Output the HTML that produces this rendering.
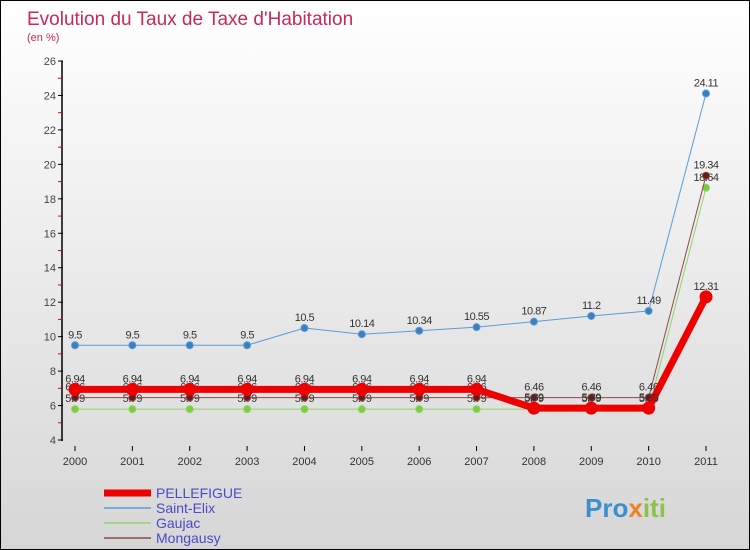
<!DOCTYPE html>
<html><head><meta charset="utf-8"><style>
body{margin:0;}
#wrap{width:748px;height:548px;border:1px solid #000;background:linear-gradient(#fff 0%,#d6d6d6 100%);position:relative;overflow:hidden;font-family:"Liberation Sans",sans-serif;}
</style></head><body>
<div id="wrap">
<svg id="svg" width="748" height="548"></svg>
</div>
<script>
const years=["2000","2001","2002","2003","2004","2005","2006","2007","2008","2009","2010","2011"];
const yTicks=[4,6,8,10,12,14,16,18,20,22,24,26];
const pellefigue=[6.94,6.94,6.94,6.94,6.94,6.94,6.94,6.94,5.85,5.85,5.85,12.31];
const pellefigueLabels=["6.94","6.94","6.94","6.94","6.94","6.94","6.94","6.94","5.89","5.89","5.89","12.31"];
const saintElix=[9.5,9.5,9.5,9.5,10.5,10.14,10.34,10.55,10.87,11.2,11.49,24.11];
const gaujac=[5.79,5.79,5.79,5.79,5.79,5.79,5.79,5.79,5.79,5.79,5.79,18.64];
const mongausy=[6.46,6.46,6.46,6.46,6.46,6.46,6.46,6.46,6.46,6.46,6.46,19.34];
const NS="http://www.w3.org/2000/svg";
const svg=document.getElementById('svg');
function X(i){return 74+i*(705-74)/11;}
function Y(v){return 439-(v-4)*(379/22);}
function el(t,a,p){const e=document.createElementNS(NS,t);for(const k in a)e.setAttribute(k,a[k]);(p||svg).appendChild(e);return e;}
function txt(x,y,s,a){const e=el('text',Object.assign({x:x,y:y},a));e.textContent=s;return e;}
let t=txt(26,24,"Evolution du Taux de Taxe d'Habitation",{fill:'#c8285a','font-size':19});

t=txt(26,40,"(en %)",{fill:'#c8285a','font-size':11});

// axes
let a=el('line',{x1:61,y1:60,x2:61,y2:440,stroke:'#000','stroke-width':1.5});

a=el('line',{x1:61,y1:440,x2:720,y2:440,stroke:'#000','stroke-width':0});
yTicks.forEach(v=>{const l=el('line',{x1:57,y1:Y(v),x2:62,y2:Y(v),stroke:'#000'});

const tt=txt(55,Y(v)+4,String(v),{'font-size':11,fill:'#444','text-anchor':'end'});

if(v<26){const m=el('line',{x1:57,y1:Y(v+1),x2:60,y2:Y(v+1),stroke:'#e00'});
}});
years.forEach((y,i)=>{const l=el('line',{x1:X(i),y1:445,x2:X(i),y2:450,stroke:'#000'});

const tt=txt(X(i),464,y,{'font-size':11,fill:'#333','text-anchor':'middle'});
});
function series(name,vals,color,w,r,fill,labels){
const g=el('g',{});
const p=el('polyline',{points:vals.map((v,i)=>X(i)+','+Y(v)).join(' '),fill:'none',stroke:color,'stroke-width':w},g);

vals.forEach((v,i)=>{const c=el('circle',{cx:X(i),cy:Y(v),r:r,fill:fill,stroke:color,'stroke-width':1},g);

const tt=txt(X(i),Y(v)-7,labels?labels[i]:String(v),{'font-size':11,fill:'#333','text-anchor':'middle','letter-spacing':'-0.5'},g);
});}
series('saint-elix',saintElix,'#5b9bd5',1,3.5,'#3a7fc0');
series('gaujac',gaujac,'#8fd46a',1,3.5,'#7ccd3c');
series('mongausy',mongausy,'#8a4a4a',1,3.5,'#6a1a1a');
series('pellefigue',pellefigue,'#ee0000',7,6,'#ee0000',pellefigueLabels);
// legend
const leg=[["PELLEFIGUE","#ee0000",7],["Saint-Elix","#5b9bd5",1.5],["Gaujac","#8fd46a",1.5],["Mongausy","#8a4a4a",1.5]];
leg.forEach((d,i)=>{const y=492+i*15;
const l=el('line',{x1:103,y1:y,x2:150,y2:y,stroke:d[1],'stroke-width':d[2]});

const tt=txt(155,y+5,d[0],{'font-size':14,fill:'#4a4ac8'});
});
const lg=txt(584,516,"Pro",{'font-size':26,'font-weight':'bold',fill:'#3a8fd0'});

const ts=[["x","#f08020"],["iti","#8bc34a"]];
ts.forEach(s=>{const e=document.createElementNS(NS,'tspan');e.setAttribute('fill',s[1]);e.textContent=s[0];lg.appendChild(e);});
</script>
</body></html>
